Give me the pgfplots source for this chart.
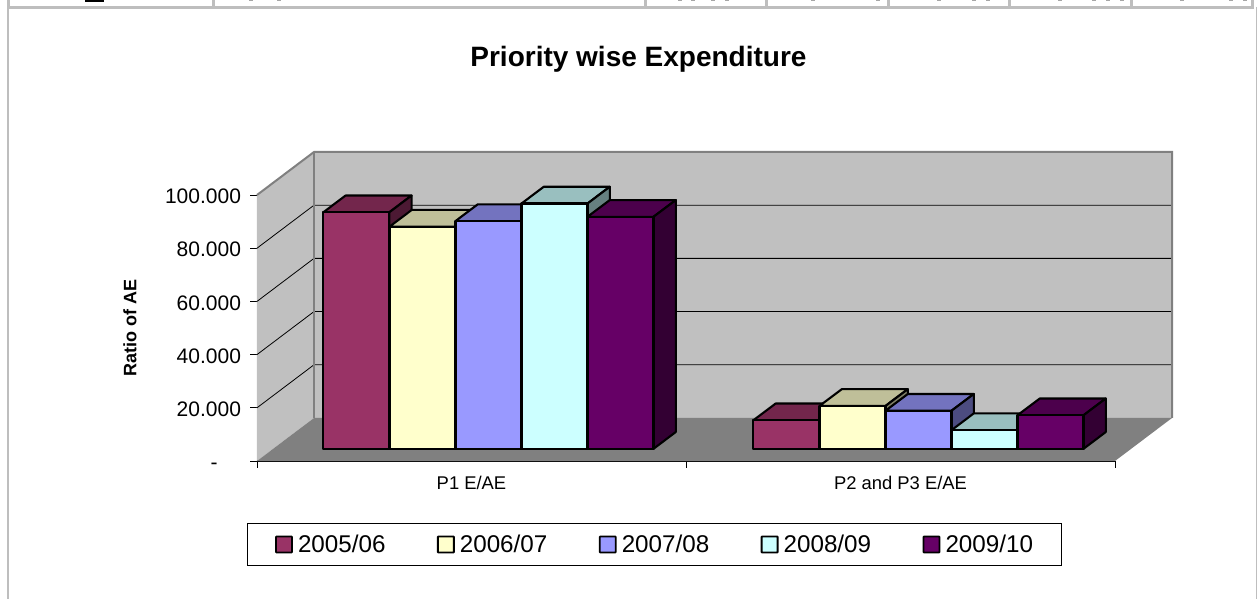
\documentclass[border=0pt]{standalone}
\usepackage{fontspec}
\setmainfont{Liberation Sans}
\usepackage{pgfplots}
\pgfplotsset{compat=1.18}
\definecolor{barA}{HTML}{993366}
\definecolor{barB}{HTML}{FFFFCC}
\definecolor{barC}{HTML}{9999FF}
\definecolor{barD}{HTML}{CCFFFF}
\definecolor{barE}{HTML}{660066}
\definecolor{wall}{HTML}{C0C0C0}
\definecolor{floorc}{HTML}{808080}
\definecolor{rulec}{HTML}{BEBEBE}

%% 1pt = 1 reference pixel; front plane of the 3D box is the axis rectangle
\newcommand{\basev}{4.6}  % bars stand this far up the front plane
\newcommand{\threedbar}[3]{%
  \pgfmathsetmacro\xa{#1}%
  \pgfmathsetmacro\xb{#1+66}%
  \pgfmathsetmacro\xc{#1+22.3}%
  \pgfmathsetmacro\xd{#1+88.3}%
  \pgfmathsetmacro\ya{\basev}%
  \pgfmathsetmacro\yb{\basev+#2}%
  \pgfmathsetmacro\yc{\basev+6.3}%
  \pgfmathsetmacro\yd{\basev+#2+6.3}%
  \edef\tmp{%
    \noexpand\addplot[barface,fill=#3!75!black] coordinates
      {(\xa,\yb)(\xb,\yb)(\xd,\yd)(\xc,\yd)} -- cycle;
    \noexpand\addplot[barface,fill=#3!50!black] coordinates
      {(\xb,\ya)(\xd,\yc)(\xd,\yd)(\xb,\yb)} -- cycle;
    \noexpand\addplot[barface,fill=#3] coordinates
      {(\xa,\ya)(\xb,\ya)(\xb,\yb)(\xa,\yb)} -- cycle;
  }\tmp
}

\begin{document}
\begin{tikzpicture}
\useasboundingbox (-257pt,-138pt) rectangle (1003pt,461pt);

%% remains of the table above and the frame of the chart, in pixel coordinates
\begin{scope}[x=1pt,y=-1pt,shift={(-257pt,461pt)}]
  \draw[rulec,line width=3pt] (8,7.3) -- (1254,7.3);
  \foreach \vx in {8.4,213,645,766.5,888,1009.6,1131,1252.5}
    \draw[rulec,line width=3pt] (\vx,0) -- (\vx,7);
  \draw[rulec,line width=2pt] (8.4,7) -- (8.4,599);
  \draw[rulec,line width=1.5pt] (1256.5,7) -- (1256.5,599);
  \fill[black] (85,0) rectangle (104,1.6);
  \foreach \vx in {251,279,680,693,713,727,813,878,939,974,988,1060,1094,1108,1122,1182,1231,1245}
    \fill[gray!70] (\vx-2,0) rectangle (\vx+2,1.3);
\end{scope}

\begin{axis}[
  scale only axis,
  width=858pt, height=266pt,
  xmin=257, xmax=1115,
  ymin=0, ymax=100,
  clip=false,
  axis x line*=bottom,
  axis y line*=left,
  axis line style={black,line width=0.9pt,-},
  every tick/.style={black,line width=0.9pt},
  tick align=outside,
  major tick length=6.5pt,
  minor tick length=6.5pt,
  xtick={471.5,900.5},
  xticklabels={P1 E/AE,P2 and P3 E/AE},
  minor xtick={257,686,1115},
  x tick style={draw=none},
  minor x tick style={draw=black,line width=0.9pt},
  x tick label style={font=\fontsize{18.4}{22}\selectfont,yshift=-5pt},
  ytick={0,20,40,60,80,100},
  yticklabels={-\phantom{00},20.000,40.000,60.000,80.000,100.000},
  y tick label style={font=\fontsize{21}{24}\selectfont,xshift=-6pt,yshift=-1.5pt},
  /pgf/number format/assume math mode=true,
  ylabel={\textbf{Ratio of AE}},
  ylabel style={font=\fontsize{18}{22}\selectfont,
    at={(axis description cs:-0.148,0.5)},anchor=center,rotate=0},
  title={\textbf{Priority wise Expenditure}},
  title style={font=\fontsize{28}{32}\selectfont,
    at={(axis description cs:0.4446,1.4887)},anchor=center},
  barface/.style={draw=black,line width=2.1pt,line join=round,forget plot},
  wallface/.style={draw=none,forget plot},
  legend columns=5,
  legend style={
    at={(axis cs:654,-31.4)},anchor=center,
    draw=black,line width=0.9pt,
    font=\fontsize{24.2}{28}\selectfont,
    inner xsep=26pt,inner ysep=9.5pt,
    /tikz/every even column/.append style={column sep=47.4pt},
    cells={anchor=west},
  },
  legend image code/.code={
    \draw[#1,draw=black,line width=1.8pt,rounded corners=0.6pt]
      (3pt,-8pt) rectangle (19pt,8pt);
    \path[draw=none,fill=none] (0pt,0pt) -- (23pt,0pt);
  },
]
%% walls and floor
\addplot[wallface,fill=wall] coordinates {(257,0)(257,100)(314,116.17)(314,16.17)} -- cycle;
\addplot[wallface,fill=wall] coordinates {(314,16.17)(1172,16.17)(1172,116.17)(314,116.17)} -- cycle;
\addplot[wallface,fill=floorc] coordinates {(257,0)(1115,0)(1172,16.17)(314,16.17)} -- cycle;
%% gridlines on left wall and back wall
\addplot[black,line width=0.8pt,forget plot] coordinates {(257,20)(314,36.17)(1172,36.17)};
\addplot[black,line width=0.8pt,forget plot] coordinates {(257,40)(314,56.17)(1172,56.17)};
\addplot[black,line width=0.8pt,forget plot] coordinates {(257,60)(314,76.17)(1172,76.17)};
\addplot[black,line width=0.8pt,forget plot] coordinates {(257,80)(314,96.17)(1172,96.17)};
%% wall outline
\addplot[floorc,line width=2pt,forget plot] coordinates {(257,100)(314,116.17)(1172,116.17)(1172,16.17)};
\addplot[floorc,line width=2pt,forget plot] coordinates {(314,116.17)(314,16.17)};

%% P1 E/AE
\threedbar{323.3}{88.9}{barA}
\threedbar{389.5}{83.5}{barB}
\threedbar{455.5}{85.6}{barC}
\threedbar{521.5}{92.2}{barD}
\threedbar{587.5}{87.2}{barE}
%% P2 and P3 E/AE
\threedbar{753.3}{10.7}{barA}
\threedbar{819.5}{16.1}{barB}
\threedbar{885.5}{14.3}{barC}
\threedbar{951.5}{7.0}{barD}
\threedbar{1017.5}{12.6}{barE}

\addlegendimage{fill=barA}\addlegendentry{2005/06}
\addlegendimage{fill=barB}\addlegendentry{2006/07}
\addlegendimage{fill=barC}\addlegendentry{2007/08}
\addlegendimage{fill=barD}\addlegendentry{2008/09}
\addlegendimage{fill=barE}\addlegendentry{2009/10}
\end{axis}
\end{tikzpicture}
\end{document}
